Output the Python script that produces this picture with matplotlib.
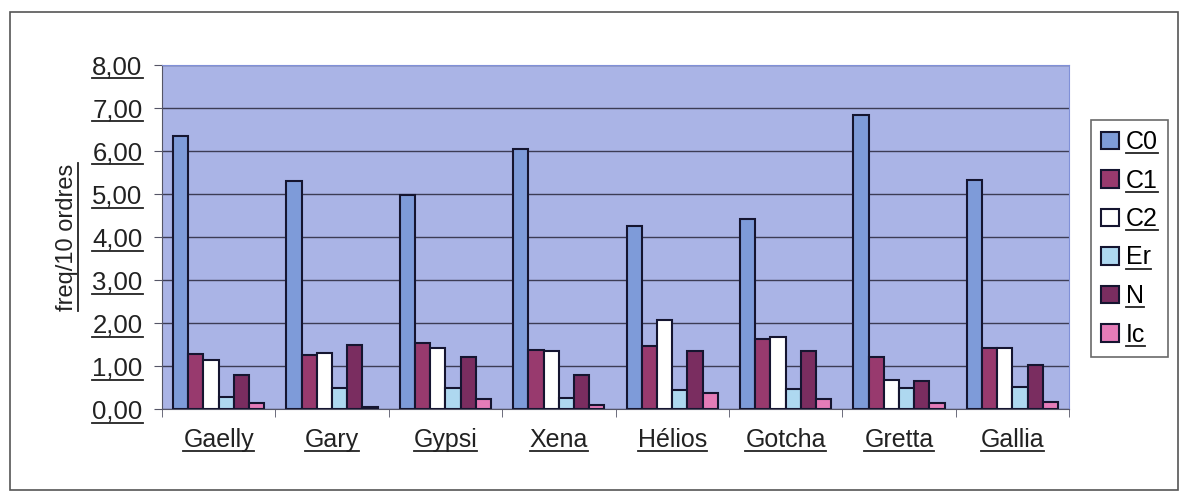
import matplotlib
matplotlib.use("Agg")
import matplotlib.pyplot as plt
from matplotlib.lines import Line2D
from matplotlib.patches import Rectangle
import numpy as np

plt.rcParams['font.family'] = ['Liberation Sans', 'DejaVu Sans']

chiens = ["Gaelly", "Gary", "Gypsi", "Xena", "Hélios", "Gotcha", "Gretta", "Gallia"]
series = ["C0", "C1", "C2", "Er", "N", "Ic"]
C0 = [6.36, 5.31, 4.97, 6.05, 4.25, 4.42, 6.83, 5.33]
C1 = [1.29, 1.25, 1.53, 1.38, 1.46, 1.63, 1.22, 1.43]
C2 = [1.15, 1.31, 1.42, 1.36, 2.06, 1.67, 0.67, 1.42]
Er = [0.27, 0.49, 0.50, 0.26, 0.45, 0.47, 0.49, 0.51]
N = [0.78, 1.48, 1.21, 0.78, 1.36, 1.34, 0.64, 1.03]
Ic = [0.14, 0.05, 0.23, 0.10, 0.37, 0.23, 0.14, 0.16]
yticks = [0, 1, 2, 3, 4, 5, 6, 7, 8]

couleurs = ["#7e9bd9", "#983a6e", "#ffffff", "#aed8f0", "#7a2d60", "#e47cb8"]

fig = plt.figure(figsize=(11.81, 4.96), dpi=100)
W, H = 1181, 496
ax = fig.add_axes([162 / W, 1 - 409 / H, (1069 - 162) / W, (409 - 65) / H])
ax.set_facecolor("#aab4e6")

x = np.arange(len(chiens))
bw = 0.134
donnees = [C0, C1, C2, Er, N, Ic]
for i, (nom, vals) in enumerate(zip(series, donnees)):
    ax.bar(x - 2.5 * bw + i * bw, vals, bw, color=couleurs[i],
           edgecolor="#151530", linewidth=1.5, label=nom, zorder=3)

ax.set_xlim(-0.5, len(chiens) - 0.5)
ax.set_ylim(0, 8)
ax.set_yticks(yticks)
ax.set_yticklabels(["%d,00" % v for v in yticks], fontsize=18.5, color="#222222")
ax.set_xticks(x)
ax.set_xticklabels(chiens, fontsize=18, color="#222222")
ax.set_xticks(np.arange(len(chiens) + 1) - 0.5, minor=True)
ax.tick_params(axis="x", which="major", length=0, pad=14)
ax.tick_params(axis="x", which="minor", length=6, color="#555566", direction="out")
ax.tick_params(axis="y", length=6, color="#555566", pad=8)
ax.yaxis.grid(True, color="#3c3c55", linewidth=1.0, zorder=1)
for s in ["top", "right"]:
    ax.spines[s].set_color("#8090d8")
ax.spines["left"].set_color("#555566")
ax.spines["bottom"].set_color("#555566")
ax.set_ylabel("freq/10 ordres", fontsize=17, color="#222222", labelpad=10)

leg = fig.legend(loc="upper left", bbox_to_anchor=(1091 / W, 1 - 120 / H),
                 fontsize=18, frameon=True, fancybox=False, edgecolor="#444444",
                 handlelength=0.7, handleheight=0.7, handletextpad=0.3,
                 labelspacing=0.58, borderpad=0.4, borderaxespad=0)
leg.get_frame().set_linewidth(1.2)

# cadre extérieur
fig.patches.append(Rectangle((10 / W, 1 - 490 / H), 1168 / W, 478 / H,
                             transform=fig.transFigure, fill=False,
                             edgecolor="#555555", linewidth=1.2))

# soulignement des textes
fig.canvas.draw()
r = fig.canvas.get_renderer()
textes = ax.get_xticklabels() + ax.get_yticklabels() + leg.get_texts()
for t in textes:
    bb = t.get_window_extent(r)
    y0 = bb.y0 + 1
    fig.add_artist(Line2D([bb.x0 / W, bb.x1 / W], [y0 / H, y0 / H],
                          color="#222222", linewidth=1.3, zorder=10))
bb = ax.yaxis.label.get_window_extent(r)
fig.add_artist(Line2D([bb.x1 / W - 0.5 / W, bb.x1 / W - 0.5 / W], [bb.y0 / H, bb.y1 / H],
                      color="#222222", linewidth=1.3, zorder=10))

fig.savefig("out.png", dpi=100)
